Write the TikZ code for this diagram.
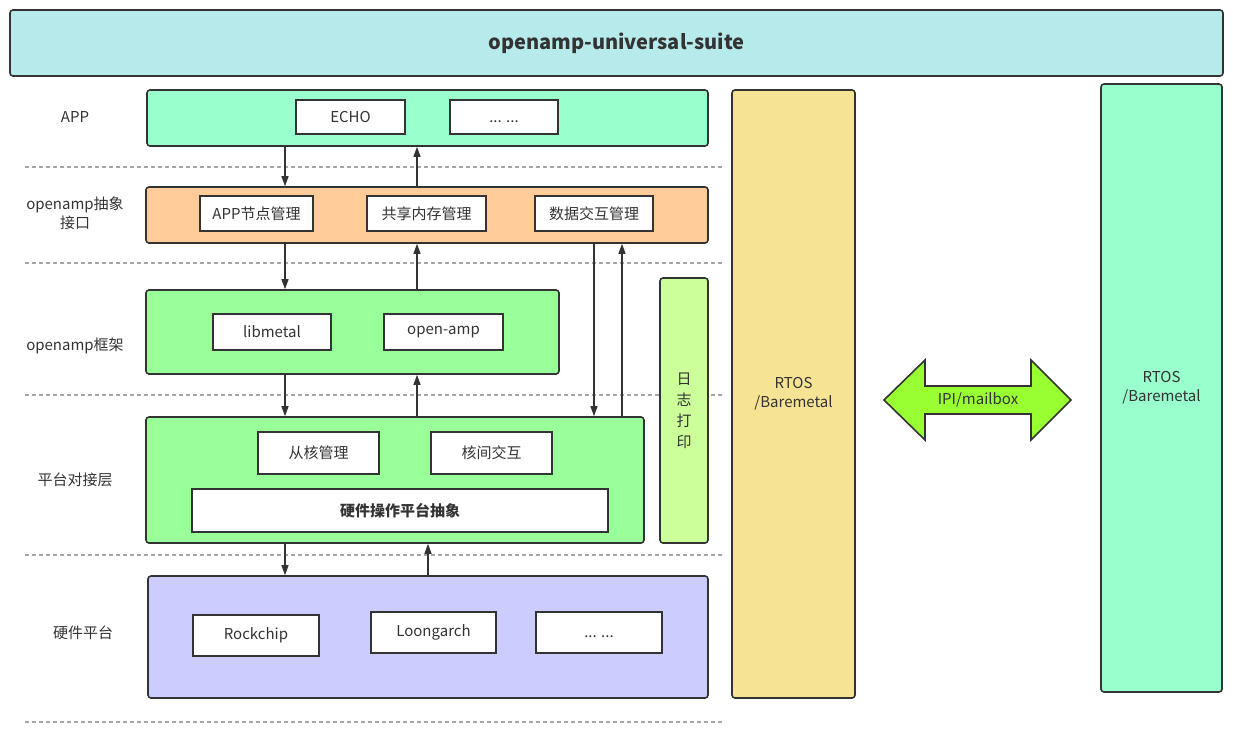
\documentclass[tikz,border=0pt]{standalone}
\usepackage{fontspec}
\setmainfont{Noto Sans CJK SC}
\usetikzlibrary{arrows.meta}
\definecolor{ink}{HTML}{333333}
\definecolor{suite}{HTML}{B7EAEA}
\definecolor{mint}{HTML}{99FFCC}
\definecolor{peach}{HTML}{FFCC99}
\definecolor{leaf}{HTML}{99FF99}
\definecolor{lime}{HTML}{CCFF99}
\definecolor{lilac}{HTML}{CCCCFF}
\definecolor{sand}{HTML}{F6E494}
\definecolor{ipi}{HTML}{99FF33}
\begin{document}
\begin{tikzpicture}[x=1pt,y=-1pt,
  font=\fontsize{15}{19}\selectfont, text=ink,
  layer/.style={draw=ink, line width=1.6pt, rounded corners=3pt, inner sep=0pt},
  item/.style={draw=ink, line width=1.6pt, fill=white, inner sep=0pt, minimum height=35pt},
  flow/.style={draw=ink, line width=1.1pt, -{Triangle[length=10pt,width=7pt]}},
  sep/.style={draw=gray!70, line width=1.1pt, dash pattern=on 4pt off 3pt}]
\useasboundingbox (0,0) rectangle (1233,732);

% titulo
\node[layer, fill=suite, minimum width=1213pt, minimum height=66pt,
  font=\fontsize{20}{24}\selectfont\bfseries] (suite) at (616.5,43) {openamp-universal-suite};

% separadores
\foreach \y in {167,263,395,555,722}
  \draw[sep] (25,\y) -- (722,\y);

% etiquetas de capa
\node (lapp)   at (75,117) {APP};
\node[align=center] (liface) at (75,213) {openamp抽象\\接口};
\node (lframe) at (75,346) {openamp框架};
\node (lplat)  at (75,480) {平台对接层};
\node (lhw)    at (83,633) {硬件平台};

% APP
\node[layer, fill=mint, minimum width=561pt, minimum height=56pt] (app) at (427.5,118) {};
\node[item, minimum width=109pt, minimum height=34pt] (echo) at (350.5,117) {ECHO};
\node[item, minimum width=108pt, minimum height=34pt] (appdots) at (504,117) {\vphantom{E}... ...};

% openamp抽象接口
\node[layer, fill=peach, minimum width=562pt, minimum height=56pt] (iface) at (427,215) {};
\node[item, minimum width=113pt] (appnode) at (256.5,213.5) {APP节点管理};
\node[item, minimum width=119pt] (shmem) at (426.5,213.5) {共享内存管理};
\node[item, minimum width=118pt] (dataio) at (594,213.5) {数据交互管理};

% openamp框架
\node[layer, fill=leaf, minimum width=413pt, minimum height=84pt] (frame) at (352.5,332) {};
\node[item, minimum width=118pt, minimum height=36pt] (libmetal) at (272,332) {libmetal};
\node[item, minimum width=119pt, minimum height=36pt] (openamp) at (443.5,332) {open-amp};

% 平台对接层
\node[layer, fill=leaf, minimum width=498pt, minimum height=126pt] (plat) at (395,480) {};
\node[item, minimum width=121pt, minimum height=42pt] (slave) at (318.5,453) {从核管理};
\node[item, minimum width=121pt, minimum height=42pt] (ipc) at (491.5,453) {核间交互};
\node[item, minimum width=416pt, minimum height=43pt, font=\fontsize{15}{19}\selectfont\bfseries] (hwabs) at (400,510.5) {硬件操作平台抽象};

% 日志打印
\node[layer, fill=lime, minimum width=48pt, minimum height=265pt, align=center,
  font=\fontsize{15}{21}\selectfont] (log) at (684,410.5) {日\\志\\打\\印};

% 硬件平台
\node[layer, fill=lilac, minimum width=560pt, minimum height=122pt] (hw) at (428,637) {};
\node[item, minimum width=126pt, minimum height=41pt] (rock) at (256,635.5) {Rockchip};
\node[item, minimum width=125pt, minimum height=41pt] (loong) at (433.5,632.5) {Loongarch};
\node[item, minimum width=126pt, minimum height=41pt] (hwdots) at (599,632.5) {\vphantom{E}... ...};

% RTOS
\node[layer, fill=sand, minimum width=123pt, minimum height=608pt, align=center] (rtosA) at (793.5,394) {RTOS\\/Baremetal};
\node[layer, fill=mint, minimum width=121pt, minimum height=608pt, align=center] (rtosB) at (1161.5,388) {RTOS\\/Baremetal};

% IPI/mailbox
\draw[draw=ink, line width=1.6pt, fill=ipi, line join=miter]
  (884,400) -- (925,360) -- (925,386) -- (1031,386) -- (1031,360) -- (1071,400)
  -- (1031,440) -- (1031,414) -- (925,414) -- (925,440) -- cycle;
\node (mbox) at (978,400) {IPI/mailbox};

% columnas de flechas
\coordinate (colA) at (285,0);
\coordinate (colB) at (417,0);
\coordinate (colC) at (594,0);
\coordinate (colD) at (622,0);
\coordinate (colE) at (428,0);

% flechas
\draw[flow] (app.south -| colA) -- (iface.north -| colA);
\draw[flow] (iface.north -| colB) -- (app.south -| colB);
\draw[flow] (iface.south -| colA) -- (frame.north -| colA);
\draw[flow] (frame.north -| colB) -- (iface.south -| colB);
\draw[flow] (iface.south -| colC) -- (plat.north -| colC);
\draw[flow] (plat.north -| colD) -- (iface.south -| colD);
\draw[flow] (frame.south -| colA) -- (plat.north -| colA);
\draw[flow] (plat.north -| colB) -- (frame.south -| colB);
\draw[flow] (plat.south -| colA) -- (hw.north -| colA);
\draw[flow] (hw.north -| colE) -- (plat.south -| colE);
\end{tikzpicture}
\end{document}
